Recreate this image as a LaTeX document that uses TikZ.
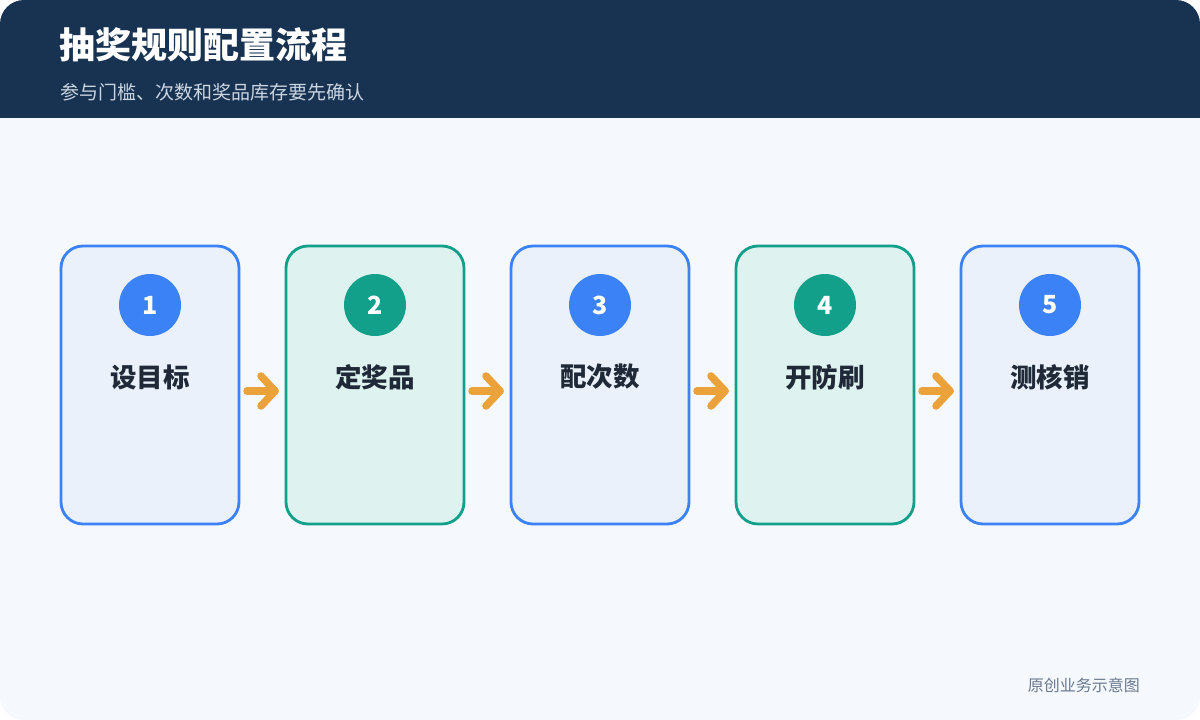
\documentclass[tikz,border=0pt]{standalone}
\usepackage{fontspec}
\setmainfont{Noto Sans CJK SC}
\definecolor{cardbg}{HTML}{F5F8FD}
\definecolor{headbg}{HTML}{183352}
\definecolor{subtxt}{HTML}{CBD5E1}
\definecolor{bluestroke}{HTML}{3B82F6}
\definecolor{bluefill}{HTML}{EAF1FA}
\definecolor{greenstroke}{HTML}{13A08A}
\definecolor{greenfill}{HTML}{DEF3EF}
\definecolor{labeltxt}{HTML}{1F2937}
\definecolor{arrowc}{HTML}{EBA23A}
\definecolor{foottxt}{HTML}{6B7A90}
\begin{document}
\begin{tikzpicture}[x=1pt,y=-1pt,
  stepbox/.style={draw, line width=2.8pt, rounded corners=22pt, minimum width=178pt, minimum height=278pt, inner sep=0pt},
  bluebox/.style={stepbox, draw=bluestroke, fill=bluefill},
  greenbox/.style={stepbox, draw=greenstroke, fill=greenfill},
  badge/.style={circle, minimum size=62pt, inner sep=0pt, text=white, font=\bfseries\fontsize{25}{28}\selectfont},
  steplabel/.style={text=labeltxt, font=\bfseries\fontsize{26.5}{30}\selectfont, inner sep=0pt},
  chev/.style={draw=arrowc, line width=7.5pt, line cap=round, line join=round}
]
\useasboundingbox (0,0) rectangle (1200,720);
\fill[white] (0,0) rectangle (1200,720);
\fill[cardbg, rounded corners=24pt] (0,0) rectangle (1200,720);
\begin{scope}
\clip[rounded corners=24pt] (0,0) rectangle (1200,720);
\fill[headbg] (0,0) rectangle (1200,118);
\end{scope}
\node[anchor=west, text=white, font=\bfseries\fontsize{36}{40}\selectfont, inner sep=0pt] (title) at (59,45) {抽奖规则配置流程};
\node[anchor=west, text=subtxt, font=\fontsize{19}{22}\selectfont, inner sep=0pt] (sub) at (60,92) {参与门槛、次数和奖品库存要先确认};
\node[anchor=east, text=foottxt, font=\fontsize{16}{19}\selectfont, inner sep=0pt] (foot) at (1140,685) {原创业务示意图};

\foreach \i/\t/\s in {1/设目标/blue,2/定奖品/green,3/配次数/blue,4/开防刷/green,5/测核销/blue}{
  \pgfmathsetmacro{\cx}{150+225*(\i-1)}
  \node[\s box] (box\i) at (\cx,385) {};
  \node[badge, fill=\s stroke] (num\i) at (\cx,305) {\i};
  \node[steplabel] (lab\i) at (\cx,377) {\t};
}
\foreach \i in {1,...,4}{
  \pgfmathsetmacro{\ax}{247+225*(\i-1)}
  \coordinate (a\i) at (\ax,391);
  \coordinate (b\i) at (\ax+28,391);
  \coordinate (c\i) at (\ax+14,376);
  \coordinate (d\i) at (\ax+14,406);
  \draw[chev] (a\i) -- (b\i);
  \draw[chev] (c\i) -- (b\i) -- (d\i);
}
\end{tikzpicture}
\end{document}
